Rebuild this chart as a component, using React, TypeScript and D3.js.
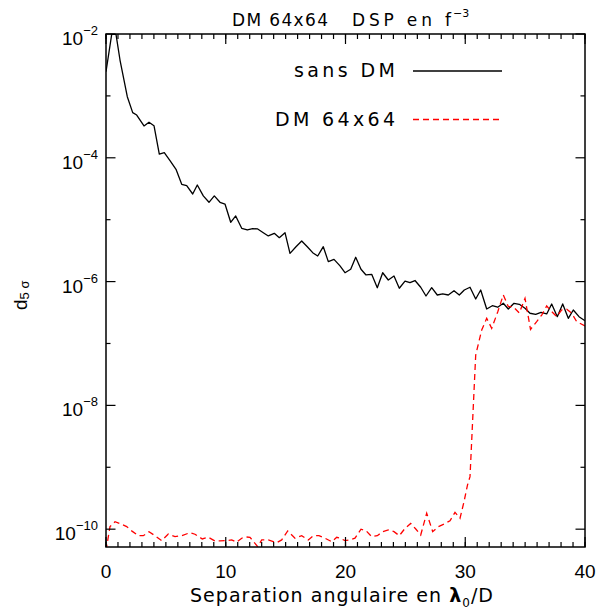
import React from "react";
import * as d3 from "d3";

// Separation (lambda0/D) and d5sigma for "sans DM" (black solid)
const sepBlack = [0, 0.476, 0.835, 1.169, 1.779, 2.23, 2.564, 3.173, 3.591, 4.008, 4.451, 4.868, 5.345, 5.846, 6.322, 6.739, 7.24, 7.624, 8.125, 8.601, 9.044, 9.52, 9.937, 10.413, 10.831, 11.332, 11.8, 12.25, 12.668, 13.136, 13.553, 14.054, 14.472, 14.948, 15.365, 15.866, 16.342, 16.81, 17.261, 17.678, 18.146, 18.564, 19.04, 19.541, 19.958, 20.434, 20.852, 21.294, 21.712, 22.188, 22.655, 23.106, 23.574, 24.05, 24.493, 24.969, 25.386, 25.804, 26.28, 26.722, 27.198, 27.666, 28.117, 28.585, 29.061, 29.503, 29.921, 30.397, 30.873, 31.29, 31.791, 32.259, 32.71, 33.177, 33.595, 34.071, 34.514, 34.99, 35.407, 35.883, 36.326, 36.802, 37.219, 37.687, 38.138, 38.606, 39.023, 39.499, 40];
const d5Black = [2.46e-3, 9.89e-3, 9.89e-3, 3.8e-3, 9.7e-4, 5.36e-4, 4.91e-4, 3.27e-4, 3.75e-4, 3.3e-4, 1.15e-4, 1.21e-4, 8.97e-5, 6.52e-5, 3.73e-5, 3.54e-5, 2.6e-5, 3.64e-5, 2.42e-5, 1.91e-5, 2.42e-5, 1.91e-5, 1.79e-5, 9.08e-6, 1.15e-5, 7.26e-6, 6.82e-6, 7.16e-6, 7.08e-6, 6.17e-6, 5.46e-6, 6.03e-6, 5.12e-6, 6.17e-6, 2.86e-6, 3.66e-6, 4.53e-6, 3.66e-6, 2.93e-6, 2.59e-6, 3.66e-6, 2.1e-6, 2.29e-6, 1.79e-6, 1.39e-6, 1.58e-6, 2.47e-6, 1.58e-6, 1.28e-6, 1.31e-6, 7.96e-7, 1.39e-6, 1.06e-6, 1.23e-6, 7.8e-7, 1.02e-6, 9.59e-7, 1.04e-6, 8.09e-7, 5.85e-7, 7.96e-7, 6.07e-7, 6.31e-7, 6.07e-7, 7.13e-7, 6.07e-7, 7.31e-7, 8.09e-7, 5.24e-7, 7.31e-7, 3.61e-7, 4.08e-7, 3.85e-7, 4.46e-7, 3.61e-7, 4.46e-7, 4.3e-7, 3.71e-7, 3.08e-7, 2.96e-7, 3.19e-7, 3.0e-7, 4.35e-7, 2.71e-7, 4.35e-7, 2.55e-7, 3.48e-7, 2.71e-7, 2.33e-7];

// "DM 64x64" (red dashed)
const sepRed = [0, 0.334, 0.752, 1.25, 1.729, 2.17, 2.697, 3.115, 3.591, 4.092, 4.651, 5.203, 5.762, 6.322, 7.015, 7.432, 8.042, 8.543, 9.102, 9.52, 9.937, 10.497, 10.914, 11.332, 11.69, 12.025, 12.668, 13.002, 13.553, 14.255, 14.672, 15.173, 15.783, 16.342, 16.894, 17.311, 17.787, 18.288, 18.848, 19.265, 19.541, 19.958, 20.376, 20.793, 21.294, 21.712, 22.188, 22.656, 23.106, 23.574, 24.05, 24.493, 24.969, 25.445, 25.887, 26.28, 26.781, 27.282, 27.75, 28.225, 28.727, 29.144, 29.562, 29.896, 30.19, 30.397, 30.873, 31.374, 31.791, 32.209, 32.71, 33.177, 33.6, 34.01, 34.514, 34.99, 35.45, 35.966, 36.384, 36.802, 37.219, 37.637, 38.055, 38.472, 38.89, 39.307, 40];
const d5Red = [4.5e-11, 1.1e-10, 1.32e-10, 1.21e-10, 1.1e-10, 9.3e-11, 7.85e-11, 7.85e-11, 9.1e-11, 7.85e-11, 6.52e-11, 8.36e-11, 7.57e-11, 7.85e-11, 8.79e-11, 8.28e-11, 6.95e-11, 7.4e-11, 6.45e-11, 6.45e-11, 6.52e-11, 6.7e-11, 6.15e-11, 7.14e-11, 7.48e-11, 7.4e-11, 5.22e-11, 6.7e-11, 6.7e-11, 6.06e-11, 6.7e-11, 9.35e-11, 7.14e-11, 7.85e-11, 6.7e-11, 7.85e-11, 7.85e-11, 7.14e-11, 6.28e-11, 7.4e-11, 7.14e-11, 6.52e-11, 6.7e-11, 7.14e-11, 1.0e-10, 9.46e-11, 7.57e-11, 7.85e-11, 9.12e-11, 9.7e-11, 9.12e-11, 7.85e-11, 1.03e-10, 1.24e-10, 9.96e-11, 8.05e-11, 1.81e-10, 9.12e-11, 1.1e-10, 1.21e-10, 1.37e-10, 1.87e-10, 1.5e-10, 2.78e-10, 5.18e-10, 7.06e-10, 6.5e-8, 1.65e-7, 2.55e-7, 1.76e-7, 3.23e-7, 6.08e-7, 3.93e-7, 3.93e-7, 3.11e-7, 5.37e-7, 1.69e-7, 2.25e-7, 2.88e-7, 4.04e-7, 3.27e-7, 2.71e-7, 3.48e-7, 3.57e-7, 3.08e-7, 2.25e-7, 1.92e-7];

const xMajorTicks = [0, 10, 20, 30, 40];
const xMinorTicks = d3.range(0, 41, 1);
const yMajorExp = [-2, -4, -6, -8, -10];
const yMinorExp = [-3, -5, -7, -9];
const titleLeft = "DM 64x64";
const titleRight = "DSP en f";
const titleExp = "\u22123";
const legendLabels = ["sans DM", "DM 64x64"];
const xTitleMain = "Separation angulaire en ";
const yTitle = "d";
const yTitleSub = "5 \u03c3";

const FONT = "'Liberation Sans', Arial, sans-serif";
const WIDE = "'DejaVu Sans', sans-serif";

export default function App() {
  const W = 596, H = 611;
  const L = 106, R = 585, T = 34, B = 547;
  const x = d3.scaleLinear().domain([0, 40]).range([L, R]);
  const y = d3.scaleLog().domain([Math.pow(10, -10.288), 1e-2]).range([B, T]);

  const black = sepBlack.map((s, i) => [s, d5Black[i]] as [number, number]);
  const red = sepRed.map((s, i) => [s, d5Red[i]] as [number, number]);
  const line = d3.line<[number, number]>().x(d => x(d[0])).y(d => y(d[1]));

  const tickStroke = { stroke: "#000", strokeWidth: 1.2 };

  return (
    <svg width={W} height={H} style={{ position: "absolute", left: 0, top: 0, background: "#fff" }} fontFamily={FONT}>
      <rect x={0} y={0} width={W} height={H} fill="#fff" />
      <defs>
        <clipPath id="plotclip">
          <rect x={L} y={T} width={R - L} height={B - T} />
        </clipPath>
      </defs>

      {/* title */}
      <text x={232} y={26} fontSize={17} fontFamily={WIDE} textLength={96} lengthAdjust="spacing">{titleLeft}</text>
      <text x={352} y={26} fontSize={17} fontFamily={WIDE} textLength={99} lengthAdjust="spacing">{titleRight}</text>
      <text x={453} y={17} fontSize={11} fontFamily={WIDE}>{titleExp}</text>

      {/* curves */}
      <g clipPath="url(#plotclip)">
        <path d={line(black) || ""} fill="none" stroke="#000" strokeWidth={1.3} strokeLinejoin="round" />
        <path d={line(red) || ""} fill="none" stroke="#ff0000" strokeWidth={1.3} strokeDasharray="6,4" />
      </g>

      {/* frame */}
      <rect x={L} y={T} width={R - L} height={B - T} fill="none" stroke="#000" strokeWidth={1.5} />

      {/* x ticks */}
      {xMinorTicks.map(v => (
        <g key={"xm" + v}>
          <line x1={x(v)} x2={x(v)} y1={B} y2={B - 5} {...tickStroke} />
          <line x1={x(v)} x2={x(v)} y1={T} y2={T + 5} {...tickStroke} />
        </g>
      ))}
      {xMajorTicks.map(v => (
        <g key={"xM" + v}>
          <line x1={x(v)} x2={x(v)} y1={B} y2={B - 10} {...tickStroke} />
          <line x1={x(v)} x2={x(v)} y1={T} y2={T + 10} {...tickStroke} />
          <text x={x(v)} y={578} fontSize={19} textAnchor="middle">{v}</text>
        </g>
      ))}

      {/* y ticks */}
      {yMinorExp.map(e => (
        <g key={"ym" + e}>
          <line x1={L} x2={L + 4.5} y1={y(Math.pow(10, e))} y2={y(Math.pow(10, e))} {...tickStroke} />
          <line x1={R} x2={R - 4.5} y1={y(Math.pow(10, e))} y2={y(Math.pow(10, e))} {...tickStroke} />
        </g>
      ))}
      {yMajorExp.map(e => {
        const yy = y(Math.pow(10, e));
        return (
          <g key={"yM" + e}>
            <line x1={L} x2={L + 9.5} y1={yy} y2={yy} {...tickStroke} />
            <line x1={R} x2={R - 9.5} y1={yy} y2={yy} {...tickStroke} />
            <text x={98} y={yy + 11} fontSize={19} textAnchor="end">
              10<tspan fontSize={13} dy={-10}>{"\u2212" + Math.abs(e)}</tspan>
            </text>
          </g>
        );
      })}

      {/* legend */}
      <text x={294} y={77} fontSize={19} fontFamily={WIDE} textLength={101} lengthAdjust="spacing">{legendLabels[0]}</text>
      <line x1={413} x2={502} y1={71} y2={71} stroke="#000" strokeWidth={1.3} />
      <text x={275} y={126} fontSize={19} fontFamily={WIDE} textLength={120} lengthAdjust="spacing">{legendLabels[1]}</text>
      <line x1={413} x2={502} y1={119.5} y2={119.5} stroke="#ff0000" strokeWidth={1.3} strokeDasharray="6,4" />

      {/* x title */}
      <text x={190} y={602} fontSize={19} fontFamily={WIDE} textLength={303} lengthAdjust="spacing">
        {xTitleMain}
        <tspan fontWeight="bold">{"\u03bb"}</tspan>
        <tspan fontSize={12} dy={5}>0</tspan>
        <tspan dy={-5}>/D</tspan>
      </text>

      {/* y title */}
      <text transform="translate(27,310) rotate(-90)" fontSize={19}>
        {yTitle}
        <tspan fontSize={13} dy={2}>{yTitleSub}</tspan>
      </text>
    </svg>
  );
}
